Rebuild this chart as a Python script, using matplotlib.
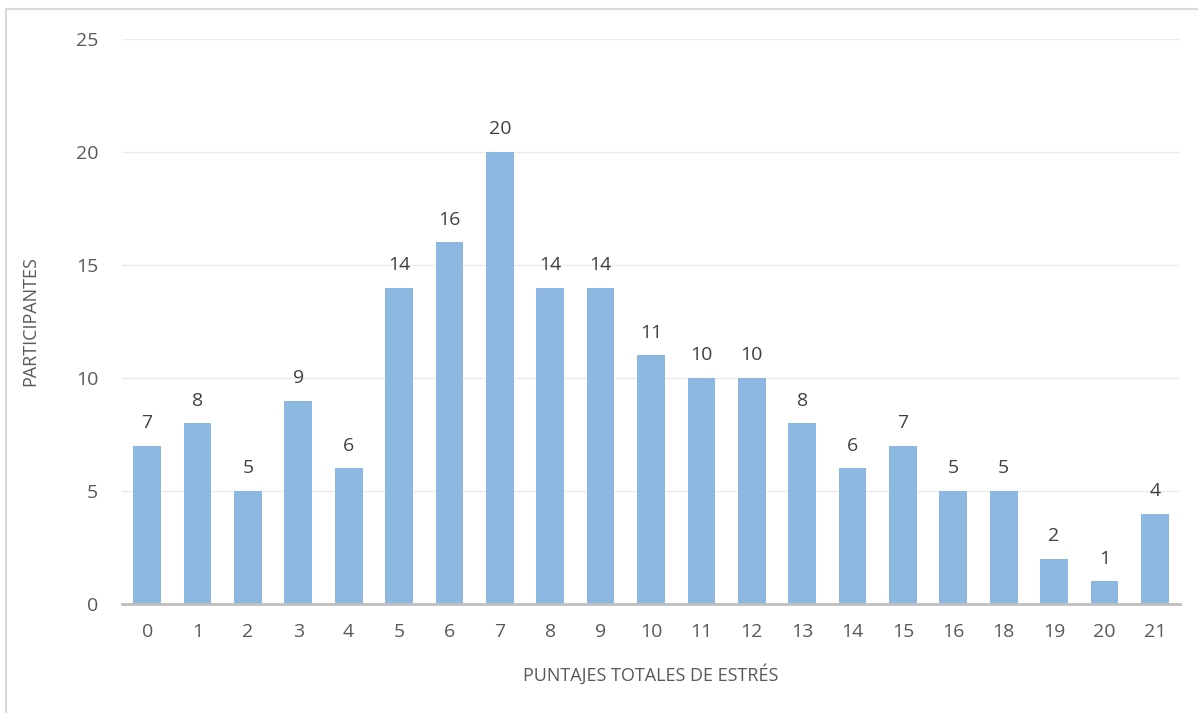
import matplotlib.pyplot as plt
from matplotlib.patches import Rectangle

plt.rcParams['font.family'] = ['Open Sans', 'DejaVu Sans']

puntajes = ['0', '1', '2', '3', '4', '5', '6', '7', '8', '9', '10',
            '11', '12', '13', '14', '15', '16', '18', '19', '20', '21']
participantes = [7, 8, 5, 9, 6, 14, 16, 20, 14, 14, 11,
                 10, 10, 8, 6, 7, 5, 5, 2, 1, 4]

TXT = '#595959'

fig = plt.figure(figsize=(11.98, 7.13), dpi=100)
ax = fig.add_axes([0.1018, 0.1529, 0.8832, 0.7924])

x = range(len(puntajes))
bars = ax.bar(x, participantes, width=0.55, color='#8cb8e2', zorder=2)
for b, v in zip(bars, participantes):
    ax.text(b.get_x() + b.get_width() / 2, v + 0.6, str(v),
            ha='center', va='bottom', fontsize=14, color='#404040')

ax.set_xlim(-0.5, len(puntajes) - 0.5)
ax.set_ylim(0, 25)
ax.set_yticks([0, 5, 10, 15, 20, 25])
ax.set_xticks(list(x))
ax.set_xticklabels(puntajes)
ax.grid(axis='y', color='#ebebeb', linewidth=1, zorder=0)
ax.tick_params(length=0, labelsize=14, labelcolor=TXT)
ax.tick_params(axis='y', pad=17)
ax.tick_params(axis='x', pad=14)
for s in ['top', 'right', 'left']:
    ax.spines[s].set_visible(False)
ax.spines['bottom'].set_color('#bfbfbf')
ax.spines['bottom'].set_linewidth(2)
ax.spines['bottom'].set_zorder(3)

ax.set_xlabel('PUNTAJES TOTALES DE ESTRÉS', fontsize=13, color=TXT)
ax.set_ylabel('PARTICIPANTES', fontsize=13, color=TXT)
ax.xaxis.set_label_coords(0.5, -0.106)
ax.yaxis.set_label_coords(-0.078, 0.5)

fig.patches.append(Rectangle((6 / 1198, -0.1), 1.2, 1 - 9 / 713 + 0.1,
                             transform=fig.transFigure, fill=False,
                             edgecolor='#d9d9d9', linewidth=1.5))

fig.savefig('out.png', dpi=100)
